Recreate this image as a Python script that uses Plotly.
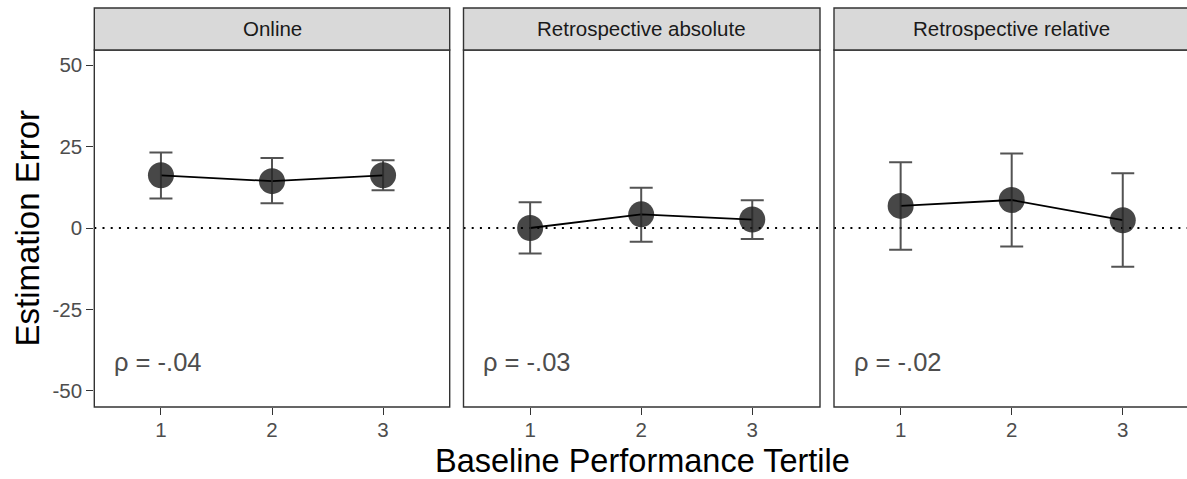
import plotly.graph_objects as go

# ---- data ----
panels = ["Online", "Retrospective absolute", "Retrospective relative"]
tertiles = [1, 2, 3]
online_mean = [16.2, 14.4, 16.2]
online_lo = [9.1, 7.6, 11.6]
online_hi = [23.2, 21.5, 20.8]
abs_mean = [0.0, 4.2, 2.6]
abs_lo = [-7.8, -4.2, -3.4]
abs_hi = [7.9, 12.4, 8.5]
rel_mean = [6.8, 8.6, 2.4]
rel_lo = [-6.7, -5.7, -11.9]
rel_hi = [20.2, 22.9, 16.8]
rho_labels = ["ρ = -.04", "ρ = -.03", "ρ = -.02"]
y_ticks = [-50, -25, 0, 25, 50]

means = [online_mean, abs_mean, rel_mean]
lows = [online_lo, abs_lo, rel_lo]
highs = [online_hi, abs_hi, rel_hi]

W, H = 1187, 479
FONT = "Liberation Sans, Arial, sans-serif"
# panel pixel positions
px_left = [94.3, 463.5, 834.0]
px_right = [449.7, 820.0, 1190.0]
top_px, bot_px = 50.0, 407.0
strip_top_px = 8.0
unit = (449.7 - 94.3) / 3.2  # px per x unit

fig = go.Figure()
shapes = []
annotations = []

for i in range(3):
    ax = "" if i == 0 else str(i + 1)
    xa, ya = "x" + ax, "y" + ax
    x0 = px_left[i] / W
    x1 = min(px_right[i], W) / W
    xmax = 0.4 + (min(px_right[i], W) - px_left[i]) / unit

    m, lo, hi = means[i], lows[i], highs[i]
    fig.add_trace(go.Scatter(
        x=tertiles, y=m, mode="markers", xaxis=xa, yaxis=ya,
        marker=dict(size=26, color="rgba(0,0,0,0.72)", line=dict(width=0)),
        showlegend=False, hoverinfo="skip"))
    fig.add_trace(go.Scatter(
        x=tertiles, y=m, mode="lines", xaxis=xa, yaxis=ya,
        line=dict(color="black", width=1.8), showlegend=False, hoverinfo="skip"))
    fig.add_trace(go.Scatter(
        x=tertiles, y=m, mode="markers", xaxis=xa, yaxis=ya,
        marker=dict(size=1, color="rgba(0,0,0,0)"),
        error_y=dict(type="data", symmetric=False,
                     array=[h - v for h, v in zip(hi, m)],
                     arrayminus=[v - l for v, l in zip(m, lo)],
                     color="rgba(40,40,40,0.8)", thickness=2, width=11.5),
        showlegend=False, hoverinfo="skip"))

    fig.layout["xaxis" + ax] = dict(
        domain=[x0, x1], range=[0.4, xmax], anchor=ya,
        tickvals=tertiles, ticktext=[str(t) for t in tertiles],
        ticks="outside", ticklen=7, tickwidth=1.3, tickcolor="#333333",
        ticklabelstandoff=-3,
        tickfont=dict(family=FONT, size=20.5, color="#4d4d4d"),
        showgrid=False, zeroline=False, showline=False, fixedrange=True)
    fig.layout["yaxis" + ax] = dict(
        domain=[1 - bot_px / H, 1 - top_px / H], range=[-55.0, 54.7], anchor=xa,
        tickvals=y_ticks if i == 0 else [],
        ticktext=[str(t) for t in y_ticks] if i == 0 else [],
        ticks="outside" if i == 0 else "", ticklen=7, tickwidth=1.3, tickcolor="#333333",
        tickfont=dict(family=FONT, size=20.5, color="#4d4d4d"),
        showticklabels=(i == 0),
        showgrid=False, zeroline=False, showline=False, fixedrange=True)

    # panel border
    shapes.append(dict(type="rect", xref="paper", yref="paper",
                       x0=px_left[i] / W, x1=px_right[i] / W,
                       y0=1 - bot_px / H, y1=1 - top_px / H,
                       line=dict(color="#333333", width=1.4), fillcolor="rgba(0,0,0,0)",
                       layer="above"))
    # strip
    shapes.append(dict(type="rect", xref="paper", yref="paper",
                       x0=px_left[i] / W, x1=px_right[i] / W,
                       y0=1 - top_px / H, y1=1 - strip_top_px / H,
                       line=dict(color="#333333", width=1.4), fillcolor="#d9d9d9",
                       layer="above"))
    annotations.append(dict(
        text=panels[i], xref="paper", yref="paper",
        x=(px_left[i] + px_right[i]) / 2 / W, y=1 - (top_px + strip_top_px) / 2 / H,
        xanchor="center", yanchor="middle", showarrow=False,
        font=dict(family=FONT, size=20.5, color="#1a1a1a")))
    # zero reference line
    shapes.append(dict(type="line", xref=xa + " domain", yref=ya,
                       x0=0, x1=1, y0=0, y1=0, layer="below",
                       line=dict(color="black", width=2.1, dash="2px,6.2px")))
    # rho label
    annotations.append(dict(
        text=rho_labels[i], xref=xa, yref=ya, x=0.56, y=-41.2,
        xanchor="left", yanchor="middle", showarrow=False,
        font=dict(family=FONT, size=25.5, color="#4d4d4d")))

# axis titles
annotations.append(dict(
    text="Baseline Performance Tertile", xref="paper", yref="paper",
    x=(94.3 + 1190) / 2 / W, y=1 - 461 / H, xanchor="center", yanchor="middle",
    showarrow=False, font=dict(family=FONT, size=32.5, color="black")))
annotations.append(dict(
    text="Estimation Error", xref="paper", yref="paper",
    x=27 / W, y=1 - 228.5 / H, xanchor="center", yanchor="middle", textangle=-90,
    showarrow=False, font=dict(family=FONT, size=33, color="black")))

fig.update_layout(
    width=W, height=H, autosize=False,
    margin=dict(l=0, r=0, t=0, b=0),
    paper_bgcolor="white", plot_bgcolor="white",
    shapes=shapes, annotations=annotations, showlegend=False)

fig.write_html("out.html")
